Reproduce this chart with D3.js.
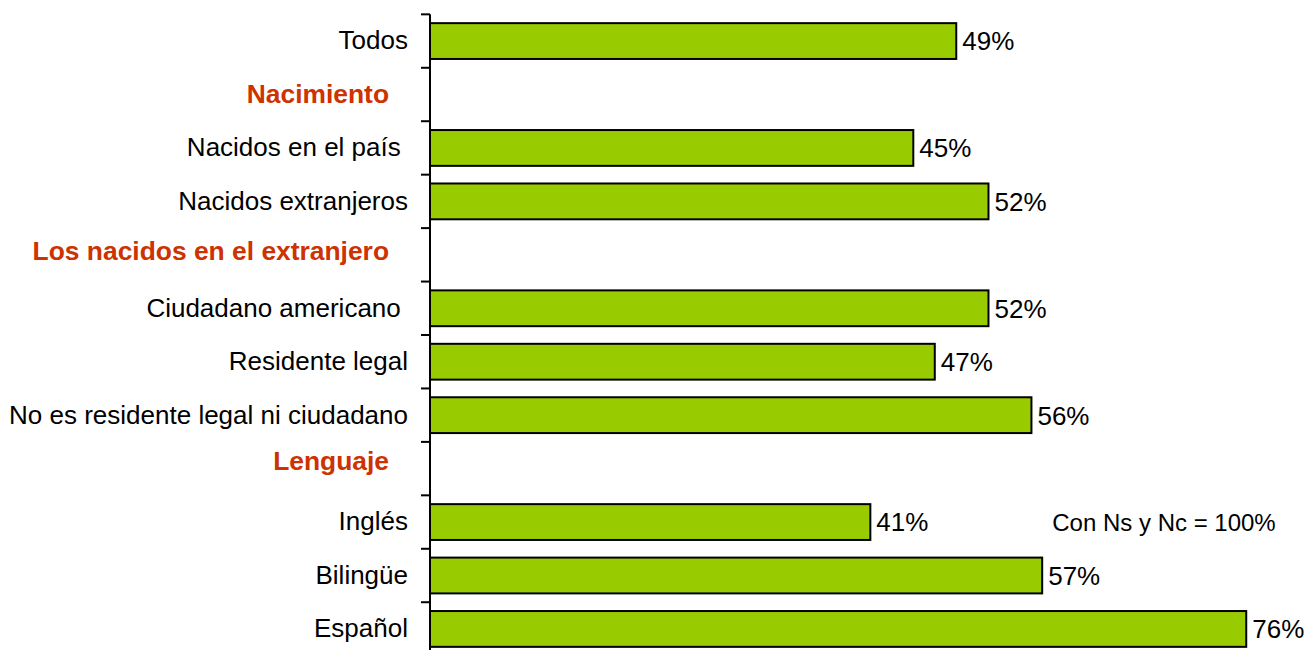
<!DOCTYPE html>
<html>
<head>
<meta charset="utf-8">
<script src="https://cdn.jsdelivr.net/npm/d3@7"></script>
<style>
  body { margin: 0; background: #fff; }
  text { font-family: Arial, "Liberation Sans", sans-serif; white-space: pre; }
</style>
</head>
<body>
<div id="chart"></div>
<script>
let categories = ["Todos", "Nacimiento", "Nacidos en el país ", "Nacidos extranjeros",
    "Los nacidos en el extranjero", "Ciudadano americano ", "Residente legal",
    "No es residente legal ni ciudadano", "Lenguaje", "Inglés", "Bilingüe", "Español"];
let values = [49, null, 45, 52, null, 52, 47, 56, null, 41, 57, 76];
let headers = ["Nacimiento", "Los nacidos en el extranjero", "Lenguaje"];
let note = "Con Ns y Nc = 100%";

let width = 1306, height = 650;
let axisX = 430;
// headers sit a little above the middle of their row in the original
let headerNudge = { "Nacimiento": -1, "Los nacidos en el extranjero": -4, "Lenguaje": -8 };

let svg = d3.select("#chart").append("svg")
    .attr("width", width)
    .attr("height", height);

let x = d3.scaleLinear().domain([0, 100]).range([axisX, axisX + 1074]);
let y = d3.scaleBand().domain(categories).range([13, 657])
    .paddingInner(0.33).paddingOuter(0.19);

let data = categories.map((c, i) => ({ cat: c, value: values[i] }));

// bars
svg.selectAll(".bar")
    .data(data.filter(d => d.value != null))
    .enter().append("rect")
    .attr("class", "bar")
    .attr("x", x(0))
    .attr("y", d => y(d.cat))
    .attr("width", d => x(d.value) - x(0))
    .attr("height", y.bandwidth())
    .attr("fill", "#99cc00")
    .attr("stroke", "#000")
    .attr("stroke-width", 2);

// value labels
svg.selectAll(".val")
    .data(data.filter(d => d.value != null))
    .enter().append("text")
    .attr("x", d => x(d.value) + 6)
    .attr("y", d => y(d.cat) + y.bandwidth() / 2)
    .attr("dy", "0.36em")
    .attr("font-size", "26px")
    .attr("fill", "#000")
    .text(d => d.value + "%");

// axis line and ticks between categories
let gap = y.step() * y.paddingInner() / 2;
let bounds = categories.map(c => y(c) - gap);

svg.append("line")
    .attr("x1", axisX).attr("x2", axisX)
    .attr("y1", bounds[0]).attr("y2", height)
    .attr("stroke", "#000").attr("stroke-width", 2);

svg.selectAll(".tick")
    .data(bounds)
    .enter().append("line")
    .attr("x1", axisX - 9).attr("x2", axisX)
    .attr("y1", d => d).attr("y2", d => d)
    .attr("stroke", "#000").attr("stroke-width", 2);

// category labels
svg.selectAll(".cat")
    .data(categories)
    .enter().append("text")
    .attr("x", d => headers.includes(d) ? axisX - 41 : axisX - 22)
    .attr("y", d => y(d) + y.bandwidth() / 2 + (headerNudge[d] || -1))
    .attr("dy", "0.36em")
    .attr("text-anchor", "end")
    .attr("font-size", d => headers.includes(d) ? "26.4px" : "26px")
    .attr("font-weight", d => headers.includes(d) ? "bold" : "normal")
    .attr("fill", d => headers.includes(d) ? "#cc3300" : "#000")
    .text(d => d);

svg.append("text")
    .attr("x", 1164)
    .attr("y", y("Inglés") + y.bandwidth() / 2)
    .attr("dy", "0.36em")
    .attr("text-anchor", "middle")
    .attr("font-size", "24px")
    .text(note);
</script>
</body>
</html>
